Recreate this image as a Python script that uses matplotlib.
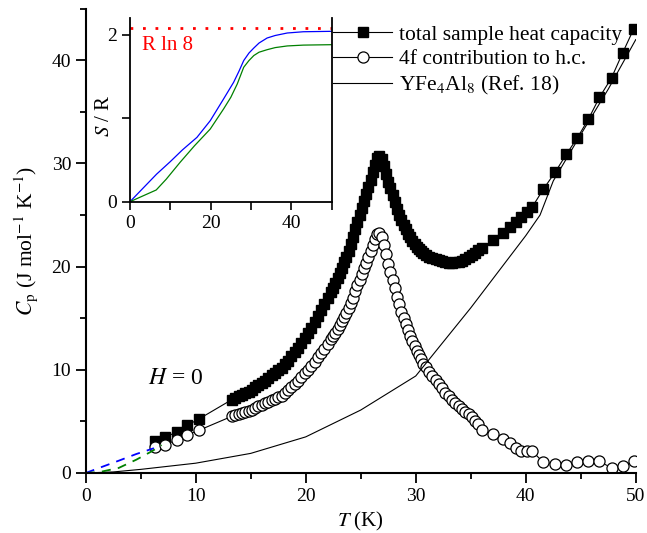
import matplotlib
matplotlib.use("Agg")
import matplotlib.pyplot as plt
from matplotlib.ticker import MultipleLocator

plt.rcParams['font.family'] = ['Liberation Serif', 'DejaVu Serif']
plt.rcParams['mathtext.fontset'] = 'stix'

# ---------------- data ----------------
T_low = [6.33, 7.24, 8.27, 9.24, 10.3]
total_low = [3.07, 3.46, 3.98, 4.62, 5.24]
f4_low = [2.49, 2.75, 3.2, 3.72, 4.14]

T_mid = [13.3, 13.6, 13.9, 14.2, 14.5, 14.8, 15.1, 15.4, 15.7, 16.0, 16.3, 16.6, 16.9,
         17.2, 17.5, 17.8, 18.1, 18.4, 18.7, 19.0, 19.3, 19.6, 19.9, 20.2, 20.5, 20.8,
         21.1, 21.4, 21.7, 22.0, 22.3,
         22.5, 22.7, 22.9, 23.1, 23.3, 23.5, 23.7, 23.9, 24.1, 24.3, 24.5, 24.7, 24.9,
         25.1, 25.3, 25.5, 25.7, 25.9, 26.1, 26.3, 26.5, 26.7, 26.9, 27.1, 27.3, 27.5,
         27.7, 27.9, 28.1, 28.3, 28.5, 28.7, 28.9, 29.1, 29.3, 29.5, 29.7, 29.9, 30.1,
         30.3, 30.5, 30.7, 30.9,
         31.2, 31.5, 31.8, 32.1, 32.4, 32.7, 33.0, 33.3, 33.6, 33.9, 34.2, 34.5, 34.8,
         35.1, 35.4, 35.7]
total_mid = [7.12, 7.27, 7.42, 7.57, 7.72, 7.87, 8.08, 8.3, 8.55, 8.75, 8.95, 9.2, 9.45,
             9.7, 9.95, 10.2, 10.55, 10.9, 11.3, 11.7, 12.15, 12.6, 13.1, 13.55, 14.1, 14.65,
             15.2, 15.75, 16.35, 16.95, 17.55,
             17.95, 18.43, 18.91, 19.39, 19.9, 20.45, 20.98, 21.55, 22.19, 22.87, 23.6, 24.33, 25.01,
             25.7, 26.37, 27.05, 27.73, 28.4, 29.14, 29.87, 30.5, 30.73, 30.46, 29.8, 29.02, 28.25,
             27.58, 26.9, 26.25, 25.6, 25.0, 24.5, 24.05, 23.6, 23.2, 22.85, 22.5, 22.2, 21.95,
             21.7, 21.5, 21.3, 21.15,
             20.95, 20.8, 20.7, 20.6, 20.5, 20.45, 20.4, 20.4, 20.42, 20.48, 20.58, 20.72, 20.9,
             21.1, 21.35, 21.6]
f4_mid = [5.5, 5.6, 5.7, 5.8, 5.9, 6.0, 6.15, 6.3, 6.45, 6.6, 6.75, 6.9, 7.05,
          7.2, 7.35, 7.5, 7.75, 8.0, 8.3, 8.6, 8.95, 9.3, 9.65, 10.0, 10.4, 10.8,
          11.2, 11.6, 12.05, 12.5, 12.95,
          13.25, 13.6, 13.95, 14.3, 14.7, 15.1, 15.5, 15.95, 16.45, 17.0, 17.6, 18.2, 18.75,
          19.3, 19.85, 20.4, 20.95, 21.5, 22.1, 22.7, 23.2, 23.3, 22.9, 22.1, 21.2, 20.3,
          19.5, 18.7, 17.9, 17.1, 16.35, 15.65, 15.0, 14.4, 13.85, 13.3, 12.8, 12.3, 11.85,
          11.4, 11.0, 10.6, 10.25,
          9.8, 9.4, 9.0, 8.6, 8.2, 7.8, 7.45, 7.1, 6.75, 6.45, 6.2, 5.95, 5.75,
          5.4, 5.05, 4.7]

T_high = [36.0, 37.05, 37.96, 38.57, 39.1, 39.6, 40.1, 40.6, 41.6, 42.7, 43.7, 44.7,
          45.7, 46.7, 47.8, 48.8, 49.8]
total_high = [21.8, 22.6, 23.3, 23.8, 24.3, 24.8, 25.3, 25.8, 27.5, 29.2, 30.9, 32.5,
              34.3, 36.4, 38.3, 40.7, 43.0]
f4_high = [4.2, 3.78, 3.33, 2.91, 2.43, 2.1, 2.1, 2.1, 1.03, 0.87, 0.8, 1.03,
           1.13, 1.13, 0.49, 0.71, 1.13]

T_ref = [0, 2.5, 5, 10, 15, 20, 25, 30, 35, 40, 41.3, 42.5, 45, 47.5, 50]
C_ref = [0, 0.1, 0.35, 0.95, 1.9, 3.5, 6.1, 9.4, 16.0, 23.0, 25.0, 28.3, 32.8, 37.2, 42.0]

T_ext_blue = [0, 1.5, 3.0, 4.6, 6.2]
C_ext_blue = [0, 0.6, 1.19, 1.84, 2.4]
T_ext_green = [0, 1.3, 3.0, 4.6, 6.0, 6.9]
C_ext_green = [0, 0.1, 0.49, 1.29, 2.1, 2.7]

T_S_blue = [0, 3, 6.6, 10, 13, 16.6, 19.9, 23.2, 25.7, 27, 28.2, 29.5, 30.7, 32, 34, 36,
            39, 43, 50]
S_blue = [0, 0.15, 0.33, 0.48, 0.62, 0.77, 0.97, 1.23, 1.43, 1.56, 1.69, 1.78, 1.84, 1.9,
          1.96, 1.99, 2.02, 2.035, 2.04]
T_S_green = [0, 6.5, 9, 12.4, 16, 19.9, 23.2, 25, 26.6, 28.2, 29.5, 30.7, 32, 34, 36, 39,
             43, 50]
S_green = [0, 0.14, 0.27, 0.47, 0.67, 0.87, 1.11, 1.25, 1.41, 1.61, 1.69, 1.75, 1.79, 1.82,
           1.845, 1.865, 1.875, 1.88]
R_ln8 = 2.079

labels = ['total sample heat capacity', '4f contribution to h.c.',
          r'YFe$_4$Al$_8$ (Ref. 18)']

# ---------------- figure ----------------
fig = plt.figure(figsize=(6.47, 5.33), dpi=100)
ax = fig.add_axes([0.1325, 0.1126, 0.8501, 0.8711])

T_tot = T_low + T_mid + T_high
C_tot = total_low + total_mid + total_high
C_f4 = f4_low + f4_mid + f4_high

ax.plot(T_tot, C_tot, '-', color='black', lw=0.8, marker='s', ms=7.5,
        mfc='black', mec='black', label=labels[0])
ax.plot(T_tot, C_f4, '-', color='black', lw=0.8, marker='o', ms=8,
        mfc='white', mec='black', mew=0.9, label=labels[1])
ax.plot(T_ref, C_ref, '-', color='black', lw=0.8, label=labels[2])
ax.plot(T_ext_blue, C_ext_blue, '--', color='blue', lw=1.3, dashes=(5, 4))
ax.plot(T_ext_green, C_ext_green, '--', color='green', lw=1.3, dashes=(5, 4))

ax.set_xlim(0, 50)
ax.set_ylim(0, 45)
ax.spines['top'].set_visible(False)
ax.spines['right'].set_visible(False)
for s in ('left', 'bottom'):
    ax.spines[s].set_linewidth(1.5)
ax.xaxis.set_major_locator(MultipleLocator(10))
ax.xaxis.set_minor_locator(MultipleLocator(5))
ax.yaxis.set_major_locator(MultipleLocator(10))
ax.yaxis.set_minor_locator(MultipleLocator(5))
ax.tick_params(which='major', length=7, width=1.3, labelsize=14, direction='out')
ax.tick_params(which='minor', length=4, width=1.3, direction='out')
ax.set_xlabel(r'$T$ (K)', fontsize=15, labelpad=4)
ax.set_ylabel(r'$C_\mathrm{p}$ (J mol$^{-1}$ K$^{-1}$)', fontsize=15.5)
ax.yaxis.set_label_coords(-0.083, 0.5)
ax.text(5.7, 9.2, r'$H$ = 0', fontsize=17, va='center')

leg = ax.legend(loc='upper left', bbox_to_anchor=(0.4496, 0.966), frameon=False,
                fontsize=15.5, handlelength=2.75, handletextpad=0.3,
                labelspacing=0.22, borderaxespad=0, borderpad=0)

# ---------------- inset ----------------
ins = fig.add_axes([0.2009, 0.6216, 0.3117, 0.3447])
ins.plot(T_S_blue, S_blue, color='blue', lw=0.9)
ins.plot(T_S_green, S_green, color='green', lw=0.9)
ins.axhline(R_ln8, color='red', ls=(0, (1, 3.5)), lw=2)
ins.text(3, 1.87, 'R ln 8', color='red', fontsize=15, va='center')
ins.set_xlim(0, 50)
ins.set_ylim(0, 2.2)
ins.spines['top'].set_visible(False)
for s in ('left', 'bottom', 'right'):
    ins.spines[s].set_linewidth(1.3)
ins.xaxis.set_major_locator(MultipleLocator(20))
ins.xaxis.set_minor_locator(MultipleLocator(10))
ins.yaxis.set_major_locator(MultipleLocator(2))
ins.yaxis.set_minor_locator(MultipleLocator(1))
ins.tick_params(which='major', length=6, width=1.2, labelsize=14, direction='out')
ins.tick_params(which='minor', length=6, width=1.2, direction='out')
ins.set_ylabel(r'$S$ / R', fontsize=15)
ins.yaxis.set_label_coords(-0.078, 0.47)

fig.savefig('out.png', dpi=100)
